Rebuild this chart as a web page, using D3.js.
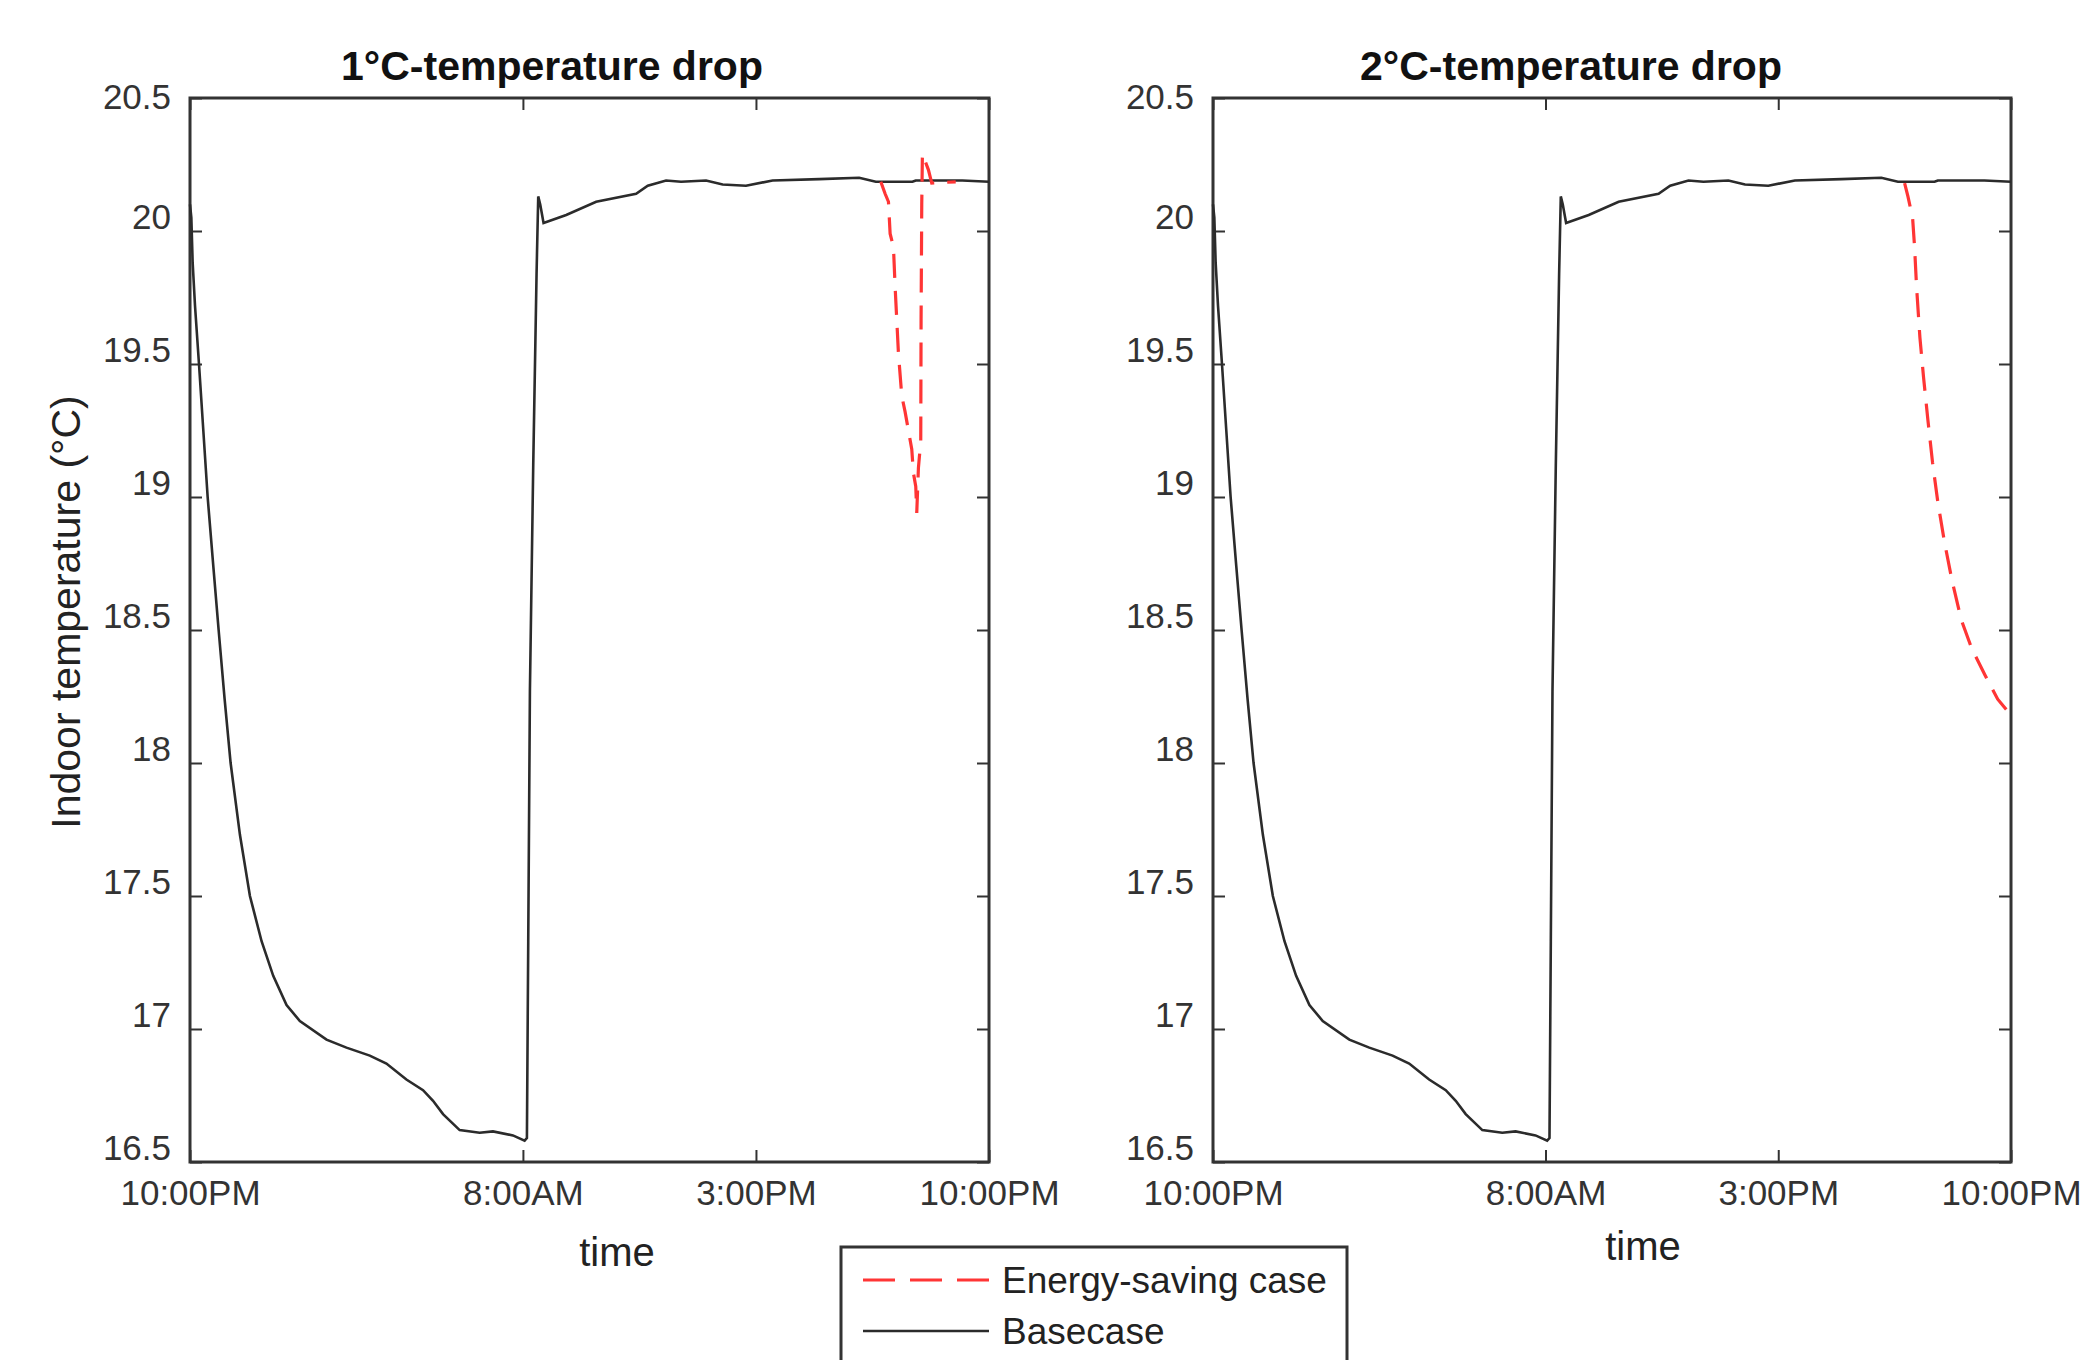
<!DOCTYPE html>
<html lang="en">
<head>
  <meta charset="UTF-8">
  <title>Indoor temperature - temperature drop</title>
  <script src="https://d3js.org/d3.v7.min.js"></script>
  <style>
    body {
      margin: 0;
      background: #ffffff;
      font-family: "Liberation Sans", Arial, sans-serif;
    }
    .tick text {
      font-size: 35px;
      fill: #333;
      font-family: "Liberation Sans", Arial, sans-serif;
    }
    .tick line {
      stroke: #333;
      stroke-width: 2;
    }
    .frame {
      fill: none;
      stroke: #333;
      stroke-width: 3;
    }
    .base {
      fill: none;
      stroke: #2b2b2b;
      stroke-width: 2.6;
    }
    .saving {
      fill: none;
      stroke: #ff3535;
      stroke-width: 3.2;
      stroke-dasharray: 24 13;
    }
  </style>
</head>
<body>
<svg width="2081" height="1360"></svg>

<script>
  // hours after 10:00PM
  const baseHours = [0, 0.04, 0.08, 0.15, 0.27, 0.40, 0.53, 0.70, 0.86, 1.04, 1.22, 1.50, 1.80, 2.15, 2.50, 2.90, 3.30,
    4.10, 4.70, 5.40, 5.90, 6.50, 7.00, 7.30, 7.60, 8.10, 8.70, 9.10, 9.70, 10.05, 10.12, 10.16, 10.21, 10.31, 10.41,
    10.46, 10.52, 10.62, 11.30, 12.20, 13.40, 13.75, 14.30, 14.75, 15.50, 16.00, 16.70, 17.50, 18.90, 20.10, 20.60,
    21.70, 21.80, 23.20, 24.00];
  const baseTemp = [20.10, 20.05, 19.88, 19.72, 19.50, 19.25, 19.00, 18.74, 18.50, 18.24, 18.00, 17.73, 17.50, 17.33,
    17.20, 17.09, 17.03, 16.96, 16.93, 16.90, 16.87, 16.81, 16.77, 16.73, 16.68, 16.62, 16.61, 16.615, 16.60, 16.58,
    16.59, 17.33, 18.27, 19.12, 19.84, 20.13, 20.10, 20.03, 20.06, 20.11, 20.14, 20.17, 20.19, 20.185, 20.19, 20.175,
    20.17, 20.19, 20.195, 20.20, 20.185, 20.185, 20.19, 20.19, 20.185];

  const saving1Hours = [20.75, 20.88, 20.98, 21.03, 21.13, 21.18, 21.28, 21.38, 21.48, 21.58, 21.68, 21.73, 21.80,
    21.83, 21.88, 21.95, 21.96, 21.98, 22.00, 22.18, 22.28, 23.00];
  const saving1Temp = [20.185, 20.14, 20.11, 19.99, 19.94, 19.79, 19.54, 19.38, 19.32, 19.25, 19.18, 19.09, 19.04,
    18.94, 19.11, 19.21, 19.67, 20.10, 20.29, 20.23, 20.18, 20.185];

  const saving2Hours = [20.80, 20.90, 21.04, 21.10, 21.16, 21.26, 21.37, 21.50, 21.64, 21.80, 22.00, 22.22, 22.50,
    22.82, 23.22, 23.60, 24.00];
  const saving2Temp = [20.18, 20.13, 20.05, 19.94, 19.79, 19.60, 19.45, 19.29, 19.13, 18.98, 18.83, 18.69, 18.54,
    18.43, 18.33, 18.24, 18.18];

  const xTickHours = [0, 10, 17, 24];
  const xTickLabels = ["10:00PM", "8:00AM", "3:00PM", "10:00PM"];
  const yTicks = [16.5, 17, 17.5, 18, 18.5, 19, 19.5, 20, 20.5];

  const panelTitles = ["1", "2"];
  const legendLabels = ["Energy-saving case", "Basecase"];

  const svg = d3.select("svg");
  const plotTop = 98, plotBottom = 1162;

  const panels = [
    { left: 190, right: 989, title: panelTitles[0], titleX: 552, timeX: 617, timeY: 1266, saving: [saving1Hours, saving1Temp], yLabel: true },
    { left: 1213, right: 2011, title: panelTitles[1], titleX: 1571, timeX: 1643, timeY: 1260, saving: [saving2Hours, saving2Temp], yLabel: false }
  ];

  const zip = (xs, ys) => xs.map((x, i) => [x, ys[i]]);

  panels.forEach(p => {
    const x = d3.scaleLinear().domain([0, 24]).range([p.left, p.right]);
    const y = d3.scaleLinear().domain([16.5, 20.5]).range([plotBottom, plotTop]);
    const g = svg.append("g");

    // bottom axis with labels, top mirrored ticks
    g.append("g")
      .attr("transform", `translate(0,${plotBottom})`)
      .call(d3.axisBottom(x).tickValues(xTickHours).tickSize(-12).tickPadding(18)
        .tickFormat((d, i) => xTickLabels[i]))
      .call(a => a.select(".domain").remove());
    g.append("g")
      .attr("transform", `translate(0,${plotTop})`)
      .call(d3.axisTop(x).tickValues(xTickHours).tickSize(-12).tickFormat(""))
      .call(a => a.select(".domain").remove());

    g.append("g")
      .attr("transform", `translate(${p.left},0)`)
      .call(d3.axisLeft(y).tickValues(yTicks).tickSize(-12).tickPadding(19).tickFormat(d => String(d)))
      .call(a => a.select(".domain").remove())
      .call(a => a.selectAll("text").attr("dy", d => d === 20.5 ? "0.3em" : "-0.08em"));
    g.append("g")
      .attr("transform", `translate(${p.right},0)`)
      .call(d3.axisRight(y).tickValues(yTicks).tickSize(-12).tickFormat(""))
      .call(a => a.select(".domain").remove());

    g.append("rect")
      .attr("class", "frame")
      .attr("x", p.left).attr("y", plotTop)
      .attr("width", p.right - p.left).attr("height", plotBottom - plotTop);

    const line = d3.line().x(d => x(d[0])).y(d => y(d[1]));

    g.append("path")
      .attr("class", "base")
      .attr("d", line(zip(baseHours, baseTemp)));

    g.append("path")
      .attr("class", "saving")
      .attr("d", line(zip(p.saving[0], p.saving[1])));

    // title
    const t = g.append("text")
      .attr("x", p.titleX).attr("y", 80)
      .attr("text-anchor", "middle")
      .attr("font-size", 41)
      .attr("font-weight", "bold")
      .attr("fill", "#111");
    t.append("tspan").text(p.title);
    t.append("tspan").text("°");
    t.append("tspan").text("C-temperature drop");

    g.append("text")
      .attr("x", p.timeX).attr("y", p.timeY)
      .attr("text-anchor", "middle")
      .attr("font-size", 40)
      .attr("fill", "#222")
      .text("time");

    if (p.yLabel) {
      g.append("text")
        .attr("transform", `translate(80,${(plotTop + plotBottom) / 2 - 18}) rotate(-90)`)
        .attr("text-anchor", "middle")
        .attr("font-size", 41)
        .attr("fill", "#222")
        .text("Indoor temperature (°C)");
    }
  });

  // legend
  const lg = svg.append("g");
  lg.append("rect")
    .attr("class", "frame")
    .attr("x", 841).attr("y", 1247)
    .attr("width", 506).attr("height", 200)
    .attr("fill", "#fff");

  const legendRows = [
    { cls: "saving", y: 1280, dash: "32 15" },
    { cls: "base", y: 1331, dash: null }
  ];
  legendRows.forEach((r, i) => {
    lg.append("line")
      .attr("class", r.cls)
      .attr("x1", 863).attr("x2", 989)
      .attr("y1", r.y).attr("y2", r.y)
      .style("stroke-dasharray", r.dash);
    lg.append("text")
      .attr("x", 1002).attr("y", r.y)
      .attr("dy", "0.35em")
      .attr("font-size", 37)
      .attr("fill", "#222")
      .text(legendLabels[i]);
  });
</script>

</body>
</html>
